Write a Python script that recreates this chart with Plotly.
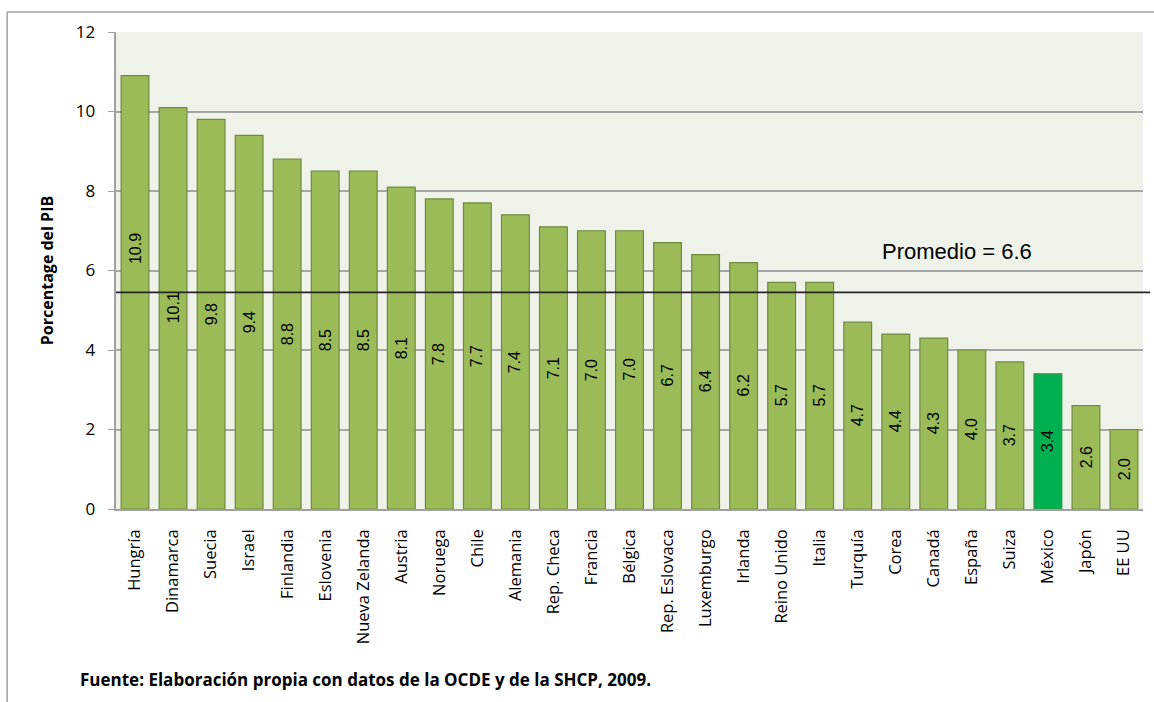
import plotly.graph_objects as go

paises = ["Hungría", "Dinamarca", "Suecia", "Israel", "Finlandia", "Eslovenia",
          "Nueva Zelanda", "Austria", "Noruega", "Chile", "Alemania", "Rep. Checa",
          "Francia", "Bélgica", "Rep. Eslovaca", "Luxemburgo", "Irlanda",
          "Reino Unido", "Italia", "Turquía", "Corea", "Canadá", "España", "Suiza",
          "México", "Japón", "EE UU"]
valores = [10.9, 10.1, 9.8, 9.4, 8.8, 8.5, 8.5, 8.1, 7.8, 7.7, 7.4, 7.1, 7.0, 7.0,
           6.7, 6.4, 6.2, 5.7, 5.7, 4.7, 4.4, 4.3, 4.0, 3.7, 3.4, 2.6, 2.0]
promedio_texto = "Promedio = 6.6"
linea_promedio = 5.45
y_ticks = [0, 2, 4, 6, 8, 10, 12]
destacado = "México"

colores = ["#00B050" if p == destacado else "#9BBB59" for p in paises]
bordes = ["#3C8F4F" if p == destacado else "#71893F" for p in paises]

fig = go.Figure()
fig.add_trace(go.Bar(
    x=paises, y=valores,
    marker=dict(color=colores, line=dict(color=bordes, width=1.2)),
    hoverinfo="x+y",
))

# data labels, rotated, centred in each bar (first one lifted above the average line)
for i, (p, v) in enumerate(zip(paises, valores)):
    ly = v * 0.6 if i == 0 else v / 2
    fig.add_annotation(x=p, y=ly, text=f"{v:.1f}", textangle=-90, showarrow=False,
                       font=dict(family="Liberation Sans", size=16, color="#000000"))

fig.add_shape(type="line", xref="paper", yref="y", x0=0, x1=1.007,
              y0=linea_promedio, y1=linea_promedio,
              line=dict(color="#262626", width=1.6))
fig.add_annotation(xref="paper", yref="y", x=0.819, y=6.47, xanchor="center",
                   yanchor="middle", text=promedio_texto, showarrow=False,
                   font=dict(family="Liberation Sans", size=22, color="#000000"))

# outer frame (top and left edges)
fig.add_shape(type="line", xref="paper", yref="paper", x0=-0.106, x1=1.02,
              y0=1.042, y1=1.042, line=dict(color="#A0A0A0", width=1.5))
fig.add_shape(type="line", xref="paper", yref="paper", x0=-0.106, x1=-0.106,
              y0=1.042, y1=-0.42, line=dict(color="#A0A0A0", width=1.5))

fig.add_annotation(xref="paper", yref="paper", x=-0.037, y=-0.358, xanchor="left",
                   yanchor="middle", showarrow=False,
                   text="<b>Fuente: Elaboración propia con datos de la OCDE y de la SHCP, 2009.</b>",
                   font=dict(family="Open Sans", size=17, color="#000000"))

# tick labels with an invisible trailing pad to push them away from the axis
y_ticktext = [f"{t}<span style='color:rgba(0,0,0,0)'>0</span>" for t in y_ticks]

fig.update_layout(
    width=1154, height=702,
    margin=dict(l=116, r=11, t=32, b=193),
    paper_bgcolor="#FFFFFF",
    plot_bgcolor="#EFF2E9",
    bargap=0.27,
    showlegend=False,
    xaxis=dict(tickangle=-90, tickfont=dict(family="Open Sans", size=16.5, color="#000000"),
               showline=True, linecolor="#A0A0A0", linewidth=1.5, ticks="",
               ticklabelstandoff=12, showgrid=False),
    yaxis=dict(range=[0, 12], tickvals=y_ticks, ticktext=y_ticktext,
               showgrid=True, gridcolor="#A6A6A6",
               gridwidth=1.5, showline=True, linecolor="#A0A0A0", linewidth=1.5,
               ticks="outside", ticklen=6, tickcolor="#A0A0A0",
               tickfont=dict(family="Open Sans", size=17, color="#000000"),
               zeroline=False,
               title=dict(text="<b>Porcentage del PIB</b>", standoff=18,
                          font=dict(family="Open Sans", size=16, color="#000000"))),
)

fig.write_html("out.html", config={"displayModeBar": False},
               post_script="document.body.style.margin='0';")
